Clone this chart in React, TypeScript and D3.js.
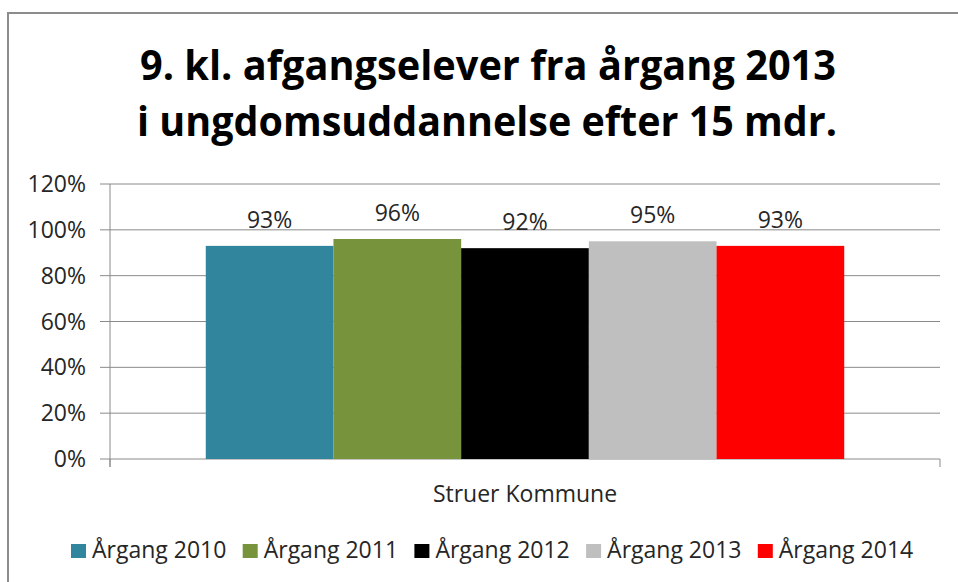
import React from "react";
import * as d3 from "d3";

const titleLines = ["9. kl. afgangselever fra årgang 2013", "i ungdomsuddannelse efter 15 mdr."];
const categories = ["Struer Kommune"];
const seriesNames = ["Årgang 2010", "Årgang 2011", "Årgang 2012", "Årgang 2013", "Årgang 2014"];
const seriesValues = [0.93, 0.96, 0.92, 0.95, 0.93];
const seriesLabels = ["93%", "96%", "92%", "95%", "93%"];
const seriesColors = ["#31859C", "#77933C", "#000000", "#BFBFBF", "#FF0000"];
const yTicks = [0, 0.2, 0.4, 0.6, 0.8, 1.0, 1.2];

const W = 958;
const H = 582;
const plot = { left: 110, right: 940, top: 184, bottom: 459 };
const font = "'Open Sans', 'Noto Sans', sans-serif";
const textColor = "#262626";
const gridColor = "#8a8a8a";

export default function App() {
  const y = d3.scaleLinear().domain([0, 1.2]).range([plot.bottom, plot.top]);
  const xCat = d3.scaleBand<string>().domain(categories).range([plot.left, plot.right]).padding(0);
  const catW = xCat.bandwidth();
  const barW = catW / (seriesNames.length + 1.5);
  const x0 = (xCat(categories[0]) as number) + barW * 0.75;
  const xSer = d3
    .scaleBand<string>()
    .domain(seriesNames)
    .range([x0, x0 + barW * seriesNames.length])
    .padding(0);
  const pct = d3.format(".0%");

  const legendStart = 71;
  const legendStep = 171.7;

  return (
    <svg
      width={W}
      height={H}
      style={{ position: "absolute", left: 0, top: 0, display: "block", background: "#fff" }}
      fontFamily={font}
    >
      {/* frame */}
      <line x1={8} y1={13} x2={W} y2={13} stroke="#8c8c8c" strokeWidth={2} />
      <line x1={8} y1={12} x2={8} y2={H} stroke="#8c8c8c" strokeWidth={2} />

      {/* title */}
      {titleLines.map((t, i) => (
        <text
          key={i}
          x={i === 0 ? 488 : 487}
          y={80 + i * 56}
          textAnchor="middle"
          fontSize={42}
          fontWeight="bold"
          fill="#000"
          textLength={i === 0 ? 696 : 700}
          lengthAdjust="spacingAndGlyphs"
        >
          {t}
        </text>
      ))}

      {/* gridlines and y ticks */}
      {yTicks.map((t) => (
        <g key={t}>
          <line x1={plot.left - 10} x2={plot.right} y1={y(t)} y2={y(t)} stroke={gridColor} strokeWidth={1} />
          <text x={86} y={y(t) + 8} textAnchor="end" fontSize={23} fill={textColor}>
            {pct(t)}
          </text>
        </g>
      ))}

      {/* y axis */}
      <line x1={plot.left} x2={plot.left} y1={plot.top} y2={plot.bottom + 8} stroke={gridColor} strokeWidth={1} />
      {/* category boundary ticks */}
      {[plot.left, plot.right].map((xx) => (
        <line key={xx} x1={xx} x2={xx} y1={plot.bottom} y2={plot.bottom + 8} stroke={gridColor} strokeWidth={1} />
      ))}

      {/* bars */}
      {seriesNames.map((s, i) => (
        <rect
          key={s}
          x={xSer(s) as number}
          y={y(seriesValues[i])}
          width={xSer.bandwidth()}
          height={plot.bottom - y(seriesValues[i])}
          fill={seriesColors[i]}
        />
      ))}

      {/* data labels */}
      {seriesNames.map((s, i) => (
        <text
          key={s}
          x={(xSer(s) as number) + xSer.bandwidth() / 2}
          y={y(seriesValues[i]) - 18}
          textAnchor="middle"
          fontSize={23}
          fill={textColor}
        >
          {seriesLabels[i]}
        </text>
      ))}

      {/* category label */}
      <text
        x={(xCat(categories[0]) as number) + catW / 2}
        y={502}
        textAnchor="middle"
        fontSize={23}
        fill={textColor}
      >
        {categories[0]}
      </text>

      {/* legend */}
      {seriesNames.map((s, i) => {
        const lx = legendStart + i * legendStep;
        return (
          <g key={s}>
            <rect x={lx} y={544} width={15} height={14} fill={seriesColors[i]} />
            <text x={lx + 21} y={558} fontSize={23} fill={textColor}>
              {s}
            </text>
          </g>
        );
      })}
    </svg>
  );
}
